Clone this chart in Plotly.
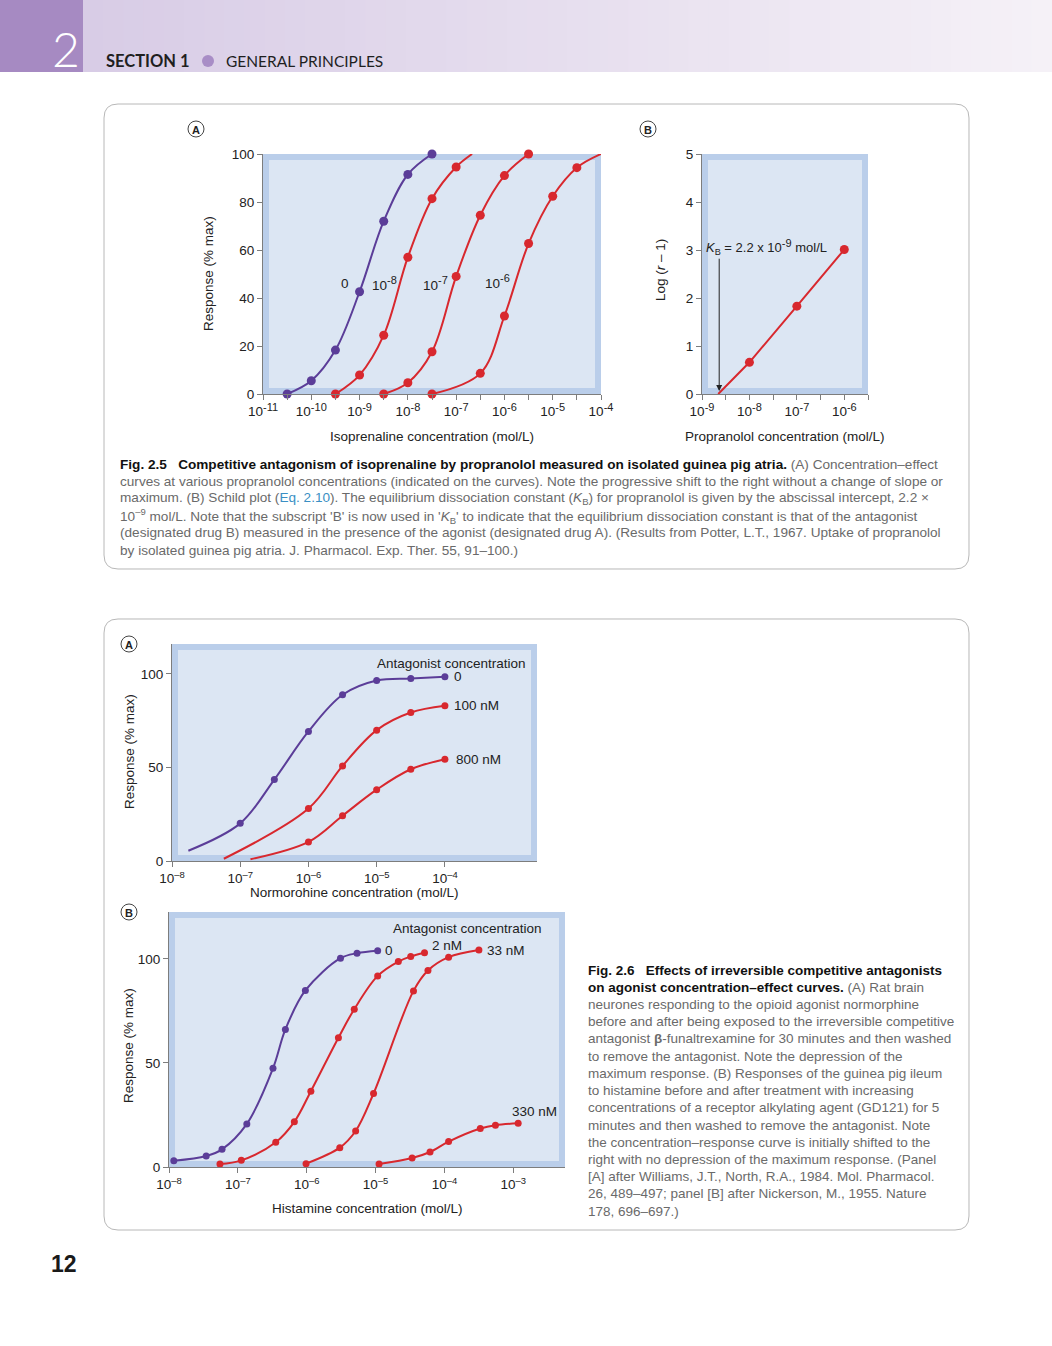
import math
import plotly.graph_objects as go

W, H = 1052, 1346
FONT = "Liberation Sans, Arial, Helvetica, sans-serif"
PURPLE = "#5B3D98"
RED = "#D8282E"
AXC = "#7d7d7d"
OUTER_BG = "#BACEEA"
INNER_BG = "#DCE6F3"
CAP_GRAY = "#6a6a6a"


def pw(e):
    """power-of-ten label with a slightly larger superscript"""
    return "10<sup><span style='font-size:11px'>%s</span></sup>" % e


# ------------------------------------------------------------------ DATA
# Fig 2.5A  (x = log10 isoprenaline mol/L, y = response % max)
iso_x_ctrl = [-10.5, -10, -9.5, -9, -8.5, -8, -7.5]
iso_y_ctrl = [0, 5.5, 18.3, 42.6, 72, 91.5, 100]
iso_x_e8 = [-9.5, -9, -8.5, -8, -7.5, -7]
iso_y_e8 = [0, 7.9, 24.5, 57, 81.4, 94.6]
iso_end_e8 = (-6.67, 100)
iso_x_e7 = [-8.5, -8, -7.5, -7, -6.5, -6, -5.5]
iso_y_e7 = [0, 4.7, 17.6, 49, 74.5, 91, 100]
iso_x_e6 = [-7.5, -6.5, -6, -5.5, -5, -4.5]
iso_y_e6 = [0, 8.6, 32.5, 62.7, 82.4, 94.3]
iso_end_e6 = (-4, 100)
iso_curve_labels = ["0", pw("-8"), pw("-7"), pw("-6")]
iso_label_x = [-9.30, -8.49, -7.43, -6.15]
iso_label_y = [46, 46, 46, 47]
iso_xticks = [-11, -10, -9, -8, -7, -6, -5, -4]
iso_xticktext = [pw("-11"), pw("-10"), pw("-9"), pw("-8"), pw("-7"), pw("-6"), pw("-5"), pw("-4")]
iso_xminor = [-10.5, -9.5, -8.5, -7.5, -6.5, -5.5, -4.5]
iso_yticks = [0, 20, 40, 60, 80, 100]

# Fig 2.5B  Schild plot (x = log10 propranolol mol/L, y = log(r-1))
prop_x = [-8, -7, -6]
prop_logr = [0.66, 1.83, 3.01]
KB = 2.2e-9
prop_xticks = [-9, -8, -7, -6]
prop_xticktext = [pw("-9"), pw("-8"), pw("-7"), pw("-6")]
prop_xminor = [-8.5, -7.5, -6.5, -5.5]
prop_yticks = [0, 1, 2, 3, 4, 5]

# Fig 2.6A  (x = log10 normorphine mol/L)
nor_x_ctrl = [-7, -6.5, -6, -5.5, -5, -4.5, -4]
nor_y_ctrl = [20.1, 43.5, 69.2, 88.8, 96.4, 97.5, 98.4]
nor_start_ctrl = (-7.76, 5.5)
nor_x_100 = [-6, -5.5, -5, -4.5, -4]
nor_y_100 = [28, 50.8, 69.9, 79.3, 82.9]
nor_start_100 = (-7.24, 1.2)
nor_x_800 = [-6, -5.5, -5, -4.5, -4]
nor_y_800 = [10.2, 24.2, 38.1, 49, 54.4]
nor_start_800 = (-6.85, 0.9)
nor_labels = ["0", "100 nM", "800 nM"]
nor_xticks = [-8, -7, -6, -5, -4]
nor_xticktext = ["10<sup>–8</sup>", "10<sup>–7</sup>", "10<sup>–6</sup>", "10<sup>–5</sup>", "10<sup>–4</sup>"]
nor_yticks = [0, 50, 100]

# Fig 2.6B  (x = log10 histamine mol/L)
his_x_ctrl = [-7.93, -7.46, -7.23, -6.87, -6.49, -6.31, -6.02, -5.51, -5.27, -4.97]
his_y_ctrl = [3.0, 5.3, 8.5, 20.7, 47.4, 66.1, 84.8, 100.3, 102.7, 103.9]
his_x_2 = [-7.26, -6.95, -6.45, -6.18, -5.94, -5.54, -5.31, -4.97, -4.67, -4.49, -4.29]
his_y_2 = [1.4, 3.2, 11.9, 21.7, 36.4, 62.1, 75.8, 91.8, 98.7, 101.1, 102.9]
his_x_33 = [-6.01, -5.52, -5.29, -5.03, -4.45, -4.24, -3.94, -3.5]
his_y_33 = [1.6, 9.3, 17.3, 35.3, 84.6, 94.4, 100.8, 104.2]
his_x_330 = [-4.95, -4.47, -4.21, -3.94, -3.48, -3.26, -2.93]
his_y_330 = [1.4, 4.3, 7.2, 12.2, 18.5, 20.1, 21.0]
his_labels = ["0", "2 nM", "33 nM", "330 nM"]
his_xticks = [-8, -7, -6, -5, -4, -3]
his_xticktext = ["10<sup>–8</sup>", "10<sup>–7</sup>", "10<sup>–6</sup>", "10<sup>–5</sup>",
                 "10<sup>–4</sup>", "10<sup>–3</sup>"]
his_yticks = [0, 50, 100]

cap25_lines = [
    "<b>Fig. 2.5\u00a0\u00a0\u00a0Competitive antagonism of isoprenaline by propranolol measured on isolated guinea pig atria.</b>"
    "<span style='color:%s'> (A) Concentration–effect</span>",
    "curves at various propranolol concentrations (indicated on the curves). Note the progressive shift to the right without a change of slope or",
    "maximum. (B) Schild plot (<span style='color:#3a8fc4'>Eq. 2.10</span>). The equilibrium dissociation constant (<i>K</i><sub>B</sub>) for propranolol is given by the abscissal intercept, 2.2 ×",
    "10<sup>–9</sup> mol/L. Note that the subscript 'B' is now used in '<i>K</i><sub>B</sub>' to indicate that the equilibrium dissociation constant is that of the antagonist",
    "(designated drug B) measured in the presence of the agonist (designated drug A). (Results from Potter, L.T., 1967. Uptake of propranolol",
    "by isolated guinea pig atria. J. Pharmacol. Exp. Ther. 55, 91–100.)",
]
cap26_lines = [
    "<b>Fig. 2.6\u00a0\u00a0\u00a0Effects of irreversible competitive antagonists</b>",
    "<b>on agonist concentration–effect curves.</b><span style='color:%s'> (A) Rat brain</span>",
    "neurones responding to the opioid agonist normorphine",
    "before and after being exposed to the irreversible competitive",
    "antagonist <b>β</b>-funaltrexamine for 30 minutes and then washed",
    "to remove the antagonist. Note the depression of the",
    "maximum response. (B) Responses of the guinea pig ileum",
    "to histamine before and after treatment with increasing",
    "concentrations of a receptor alkylating agent (GD121) for 5",
    "minutes and then washed to remove the antagonist. Note",
    "the concentration–response curve is initially shifted to the",
    "right with no depression of the maximum response. (Panel",
    "[A] after Williams, J.T., North, R.A., 1984. Mol. Pharmacol.",
    "26, 489–497; panel [B] after Nickerson, M., 1955. Nature",
    "178, 696–697.)",
]

# ------------------------------------------------------------------ HELPERS
fig = go.Figure()
layout_axes = {}
shapes = []
annotations = []


def PX(px):
    return px / W


def PY(py):
    return 1 - py / H


def aname(n, k):
    return k + ("" if n == 1 else str(n))


def lkey(n, k):
    return k + "axis" + ("" if n == 1 else str(n))


TICKFONT = dict(family=FONT, size=13.5, color="#222222")


def setup_panel(n, px0, px1, py0, py1, xr, yr, xtv, xtt, xminor, ytv, inset=6):
    common = dict(showgrid=False, zeroline=False, showline=True, linecolor=AXC,
                  linewidth=1, tickcolor=AXC, ticklen=5, fixedrange=True, automargin=False)
    xa = dict(domain=[PX(px0), PX(px1)], anchor=aname(n, "y"), range=list(xr),
              tickmode="array", tickvals=xtv, ticktext=xtt, ticks="outside",
              tickfont=TICKFONT, **common)
    if xminor:
        xa["minor"] = dict(tickmode="array", tickvals=xminor, ticks="outside",
                           ticklen=5, tickcolor=AXC, showgrid=False)
    layout_axes[lkey(n, "x")] = xa
    layout_axes[lkey(n, "y")] = dict(domain=[PY(py1), PY(py0)], anchor=aname(n, "x"),
                                     range=list(yr), tickmode="array", tickvals=ytv,
                                     ticks="outside", tickfont=TICKFONT, **common)
    top_vals = list(xtv) + list(xminor or [])
    layout_axes[lkey(n + 1, "x")] = dict(overlaying=aname(n, "x"), anchor=aname(n, "y"),
                                         side="top", range=list(xr), tickmode="array",
                                         tickvals=top_vals, ticks="inside",
                                         showticklabels=False, **common)
    layout_axes[lkey(n + 1, "y")] = dict(overlaying=aname(n, "y"), anchor=aname(n, "x"),
                                         side="right", range=list(yr), tickmode="array",
                                         tickvals=ytv, ticks="inside",
                                         showticklabels=False, **common)
    w = px1 - px0
    h = py1 - py0
    shapes.append(dict(type="rect", xref=aname(n, "x") + " domain",
                       yref=aname(n, "y") + " domain",
                       x0=inset / w, x1=1 - inset / w, y0=inset / h, y1=1 - inset / h,
                       fillcolor=INNER_BG, line=dict(width=0), layer="below"))


def curve(n, xs, ys, color, msize, start=None, end=None):
    lx = ([start[0]] if start else []) + list(xs) + ([end[0]] if end else [])
    ly = ([start[1]] if start else []) + list(ys) + ([end[1]] if end else [])
    fig.add_trace(go.Scatter(x=lx, y=ly, mode="lines", xaxis=aname(n, "x"),
                             yaxis=aname(n, "y"), showlegend=False, cliponaxis=False,
                             line=dict(color=color, width=2, shape="spline", smoothing=1.0),
                             hoverinfo="skip"))
    fig.add_trace(go.Scatter(x=xs, y=ys, mode="markers", xaxis=aname(n, "x"),
                             yaxis=aname(n, "y"), showlegend=False, cliponaxis=False,
                             marker=dict(color=color, size=msize, line=dict(width=0))))


def text(px, py, s, size=13, color="#222222", xanchor="center", yanchor="middle",
         angle=0, family=FONT, weight=None):
    f = dict(family=family, size=size, color=color)
    if weight:
        f["weight"] = weight
    annotations.append(dict(x=PX(px), y=PY(py), xref="paper", yref="paper", text=s,
                            showarrow=False, xanchor=xanchor, yanchor=yanchor,
                            textangle=angle, font=f))


def dtext(n, x, y, s, size=13.5, xanchor="center", yanchor="middle"):
    annotations.append(dict(x=x, y=y, xref=aname(n, "x"), yref=aname(n, "y"), text=s,
                            showarrow=False, xanchor=xanchor, yanchor=yanchor,
                            font=dict(family=FONT, size=size, color="#222222")))


def rbox(x0, y0, x1, y1, r):
    X = lambda v: f"{v / W:.5f}"
    Y = lambda v: f"{1 - v / H:.5f}"
    return (f"M{X(x0 + r)},{Y(y0)} L{X(x1 - r)},{Y(y0)} Q{X(x1)},{Y(y0)} {X(x1)},{Y(y0 + r)} "
            f"L{X(x1)},{Y(y1 - r)} Q{X(x1)},{Y(y1)} {X(x1 - r)},{Y(y1)} "
            f"L{X(x0 + r)},{Y(y1)} Q{X(x0)},{Y(y1)} {X(x0)},{Y(y1 - r)} "
            f"L{X(x0)},{Y(y0 + r)} Q{X(x0)},{Y(y0)} {X(x0 + r)},{Y(y0)} Z")


def circle_label(cx, cy, s):
    r = 8
    shapes.append(dict(type="circle", xref="paper", yref="paper",
                       x0=PX(cx - r), x1=PX(cx + r), y0=PY(cy + r), y1=PY(cy - r),
                       line=dict(color="#444444", width=1), fillcolor="white"))
    text(cx, cy + 0.5, "<b>%s</b>" % s, size=11, color="#222222")


# ------------------------------------------------------------------ PAGE DECOR
# header band
c0 = (0xD8, 0xCC, 0xE6)
c1 = (0xF5, 0xF1, 0xF7)
nstrip = 48
x_start = 83
for i in range(nstrip):
    t = i / (nstrip - 1)
    col = "rgb(%d,%d,%d)" % tuple(int(round(a + (b - a) * t)) for a, b in zip(c0, c1))
    xa = x_start + (W - x_start) * i / nstrip
    xb = x_start + (W - x_start) * (i + 1) / nstrip + 1
    shapes.append(dict(type="rect", xref="paper", yref="paper", x0=PX(xa), x1=PX(min(xb, W)),
                       y0=PY(72), y1=PY(0), fillcolor=col, line=dict(width=0), layer="below"))
shapes.append(dict(type="rect", xref="paper", yref="paper", x0=0, x1=PX(83), y0=PY(72), y1=1,
                   fillcolor="#A68AC2", line=dict(width=0), layer="below"))
text(66, 49, "2", size=48, color="white", family="Lato, " + FONT, weight=300)
text(104, 61, "<b>SECTION 1</b>", size=16.5, color="#1f1f1f", xanchor="left", family="Lato, " + FONT)
shapes.append(dict(type="circle", xref="paper", yref="paper", x0=PX(202), x1=PX(214),
                   y0=PY(67), y1=PY(55), fillcolor="#A88DC6", line=dict(width=0)))
text(224, 61, "GENERAL PRINCIPLES", size=15.5, color="#1f1f1f", xanchor="left", family="Lato, " + FONT)

# figure boxes
shapes.append(dict(type="path", xref="paper", yref="paper", path=rbox(104, 104, 969, 569, 14),
                   line=dict(color="#b8b8b8", width=1)))
shapes.append(dict(type="path", xref="paper", yref="paper", path=rbox(104, 619, 969, 1230, 14),
                   line=dict(color="#b8b8b8", width=1)))

# page number
text(64, 1264, "<b>12</b>", size=23, color="#1a1a1a")

# ------------------------------------------------------------------ PANELS
# Fig 2.5A
setup_panel(1, 263, 601, 154, 394, (-11, -4), (0, 100), iso_xticks, iso_xticktext, iso_xminor, iso_yticks)
curve(1, iso_x_ctrl, iso_y_ctrl, PURPLE, 9)
curve(1, iso_x_e8, iso_y_e8, RED, 9, end=iso_end_e8)
curve(1, iso_x_e7, iso_y_e7, RED, 9)
curve(1, iso_x_e6, iso_y_e6, RED, 9, end=iso_end_e6)
for s, x, y in zip(iso_curve_labels, iso_label_x, iso_label_y):
    dtext(1, x, y, s)
circle_label(196, 129, "A")
text(432, 437, "Isoprenaline concentration (mol/L)", size=13.5)
text(209, 274, "Response (% max)", size=13.5, angle=-90)

# Fig 2.5B
setup_panel(3, 702, 868, 154, 394, (-9, -5.5), (0, 5), prop_xticks, prop_xticktext, prop_xminor, prop_yticks)
kb_log = math.log10(KB)
fig.add_trace(go.Scatter(x=[kb_log] + prop_x, y=[0] + prop_logr, mode="lines", xaxis="x3", yaxis="y3",
                         showlegend=False, cliponaxis=False, line=dict(color=RED, width=2)))
fig.add_trace(go.Scatter(x=prop_x, y=prop_logr, mode="markers", xaxis="x3", yaxis="y3",
                         showlegend=False, cliponaxis=False, marker=dict(color=RED, size=9)))
annotations.append(dict(x=-8.95, y=3.06, xref="x3", yref="y3",
                        text="<i>K</i><sub>B</sub> = 2.2 x " + pw("-9") + " mol/L", showarrow=False,
                        xanchor="left", yanchor="middle", font=dict(family=FONT, size=13, color="#222222")))
annotations.append(dict(x=kb_log + 0.02, y=0.06, ax=kb_log + 0.02, ay=2.85, xref="x3", yref="y3",
                        axref="x3", ayref="y3", text="", showarrow=True, arrowhead=2,
                        arrowsize=1.2, arrowwidth=1, arrowcolor="#222222", standoff=0))
circle_label(648, 129, "B")
text(785, 437, "Propranolol concentration (mol/L)", size=13.5)
text(661, 270, "Log (<i>r</i> – 1)", size=13.5, angle=-90)

# Fig 2.6A
setup_panel(5, 172, 537, 644, 861, (-8, -2.65), (0, 115.9), nor_xticks, nor_xticktext, None, nor_yticks)
curve(5, nor_x_ctrl, nor_y_ctrl, PURPLE, 7, start=nor_start_ctrl)
curve(5, nor_x_100, nor_y_100, RED, 7, start=nor_start_100)
curve(5, nor_x_800, nor_y_800, RED, 7, start=nor_start_800)
dtext(5, -2.78, 105.7, "Antagonist concentration", xanchor="right")
dtext(5, -3.9, nor_y_ctrl[-1], nor_labels[0], xanchor="left")
dtext(5, -3.9, nor_y_100[-1], nor_labels[1], xanchor="left")
dtext(5, -3.87, nor_y_800[-1], nor_labels[2], xanchor="left")
circle_label(129, 644, "A")
text(354, 892, "Normorohine concentration (mol/L)", size=13.5)
text(129, 752, "Response (% max)", size=13.5, angle=-90)

# Fig 2.6B
setup_panel(7, 169, 565, 912, 1167, (-8, -2.25), (0, 122.5), his_xticks, his_xticktext, None, his_yticks)
curve(7, his_x_ctrl, his_y_ctrl, PURPLE, 7)
curve(7, his_x_2, his_y_2, RED, 7)
curve(7, his_x_33, his_y_33, RED, 7)
curve(7, his_x_330, his_y_330, RED, 7)
dtext(7, -2.56, 114.4, "Antagonist concentration", xanchor="right")
dtext(7, -4.89, his_y_ctrl[-1], his_labels[0], xanchor="left")
dtext(7, -4.21, 106.6, his_labels[1], xanchor="left")
dtext(7, -3.41, his_y_33[-1], his_labels[2], xanchor="left")
dtext(7, -2.69, 26.8, his_labels[3], xanchor="center")
circle_label(129, 912, "B")
text(367, 1208, "Histamine concentration (mol/L)", size=13.5)
text(128, 1046, "Response (% max)", size=13.5, angle=-90)

# ------------------------------------------------------------------ CAPTIONS
cap25_y = [464, 481, 498, 516, 533, 550]
for i, (line, y) in enumerate(zip(cap25_lines, cap25_y)):
    s = line % CAP_GRAY if i == 0 else "<span style='color:%s'>%s</span>" % (CAP_GRAY, line)
    text(118, y, s, size=13.6, color="#111111", xanchor="left")

cap26_y0 = 970
for i, line in enumerate(cap26_lines):
    y = cap26_y0 + i * 17.23
    if i == 0:
        s = line
    elif i == 1:
        s = line % CAP_GRAY
    else:
        s = "<span style='color:%s'>%s</span>" % (CAP_GRAY, line)
    text(586, y, s, size=13.5, color="#111111", xanchor="left")

fig.update_layout(
    width=W, height=H, margin=dict(l=0, r=0, t=0, b=0, pad=0, autoexpand=False),
    paper_bgcolor="white", plot_bgcolor=OUTER_BG,
    showlegend=False, shapes=shapes, annotations=annotations,
    font=dict(family=FONT, color="#222222"),
    **layout_axes,
)
fig.write_html("out.html", config={"displayModeBar": False},
               post_script="document.body.style.margin='0px';")
